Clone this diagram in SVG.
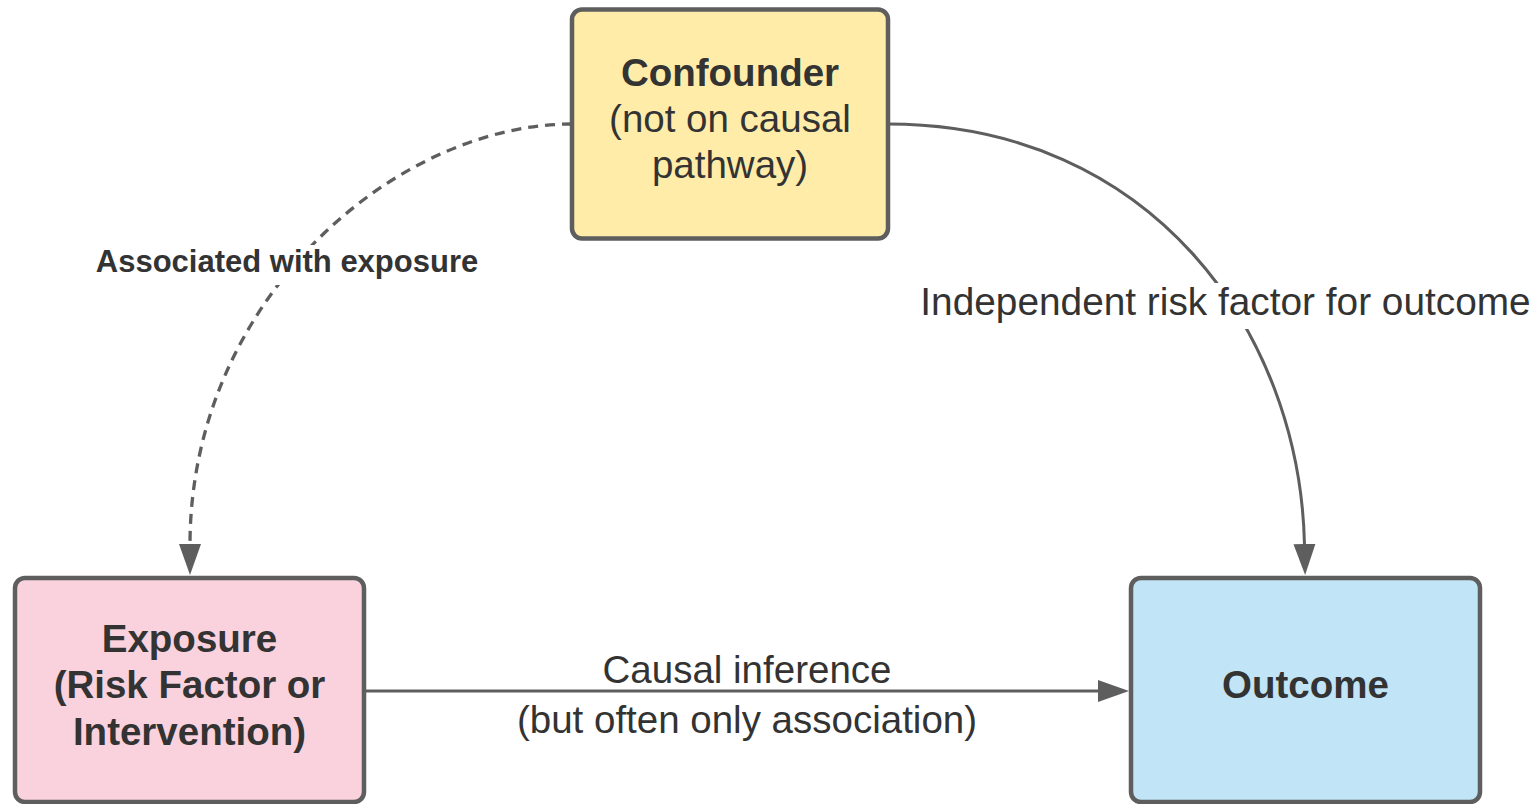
<svg xmlns="http://www.w3.org/2000/svg" width="1537" height="804" viewBox="0 0 1537 804">
  <style>
    .box { stroke: #5e5e5e; stroke-width: 4.5; }
    .t { font-family: "Liberation Sans", Arial, sans-serif; fill: #333333; text-anchor: middle; }
    .b { font-weight: bold; }
    .big { font-size: 38.5px; }
    .lbl { font-size: 31px; }
    .ind { font-size: 38.8px; }
    .edge { fill: none; stroke: #5e5e5e; stroke-width: 3; }
    .dash { stroke-width: 3.3; stroke-dasharray: 10 7; }
  </style>
  <defs>
    <marker id="arrow" markerUnits="userSpaceOnUse" markerWidth="32" markerHeight="24" viewBox="0 -12 32 24" refX="1" refY="0" orient="auto">
      <path d="M0,-11 L31,0 L0,11 z" fill="#5e5e5e"/>
    </marker>
  </defs>
  <rect width="1537" height="804" fill="#ffffff"/>

  <g id="connectors">
    <path id="e-conf-exp" class="edge dash" d="M572,124 C395,124 190,300 190,545" marker-end="url(#arrow)"/>
    <path id="e-conf-out" class="edge" d="M888,124 C1150,124 1300,330 1304.5,545" marker-end="url(#arrow)"/>
    <path id="e-exp-out" class="edge" d="M364,691 L1099,691" marker-end="url(#arrow)"/>
    <g id="labels">
      <rect x="90" y="245" width="394" height="40" fill="#ffffff"/>
      <text class="t b lbl" x="287" y="272">Associated with exposure</text>
      <rect x="914" y="283" width="623" height="46" fill="#ffffff"/>
      <text class="t ind" x="1225.5" y="315">Independent risk factor for outcome</text>
      <text class="t big" x="747" y="683">Causal inference</text>
      <text class="t big" x="747" y="733">(but often only association)</text>
    </g>
  </g>

  <g id="confounder">
    <rect class="box" x="572" y="9.5" width="316" height="229" rx="10" fill="#ffeca9"/>
    <text class="t big b" x="730" y="86">Confounder</text>
    <text class="t big" x="730" y="132">(not on causal</text>
    <text class="t big" x="730" y="178">pathway)</text>
  </g>

  <g id="exposure">
    <rect class="box" x="15" y="578" width="349" height="224" rx="10" fill="#f9d2dd"/>
    <text class="t big b" x="189.5" y="652">Exposure</text>
    <text class="t big b" x="189.5" y="698">(Risk Factor or</text>
    <text class="t big b" x="189.5" y="745">Intervention)</text>
  </g>

  <g id="outcome">
    <rect class="box" x="1131" y="578" width="349" height="224" rx="10" fill="#c1e4f6"/>
    <text class="t big b" x="1305.5" y="698">Outcome</text>
  </g>
</svg>
